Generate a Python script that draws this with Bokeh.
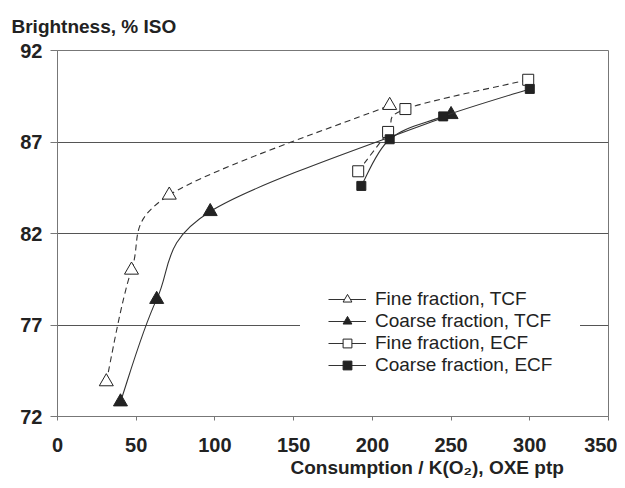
from bokeh.plotting import figure
from bokeh.models import (Range1d, FixedTicker, Legend, LegendItem,
                          ColumnDataSource, Title)
from bokeh.embed import file_html
from bokeh.resources import INLINE

# ---------------- data ----------------
fine_tcf_x = [31, 47, 71, 211]
fine_tcf_y = [73.9, 80.0, 84.1, 89.0]

coarse_tcf_x = [40, 63, 97, 250]
coarse_tcf_y = [72.8, 78.4, 83.2, 88.5]

fine_ecf_x = [191, 210, 221, 299]
fine_ecf_y = [85.4, 87.55, 88.8, 90.4]

coarse_ecf_x = [193, 211, 245, 300]
coarse_ecf_y = [84.6, 87.15, 88.4, 89.9]

series_names = ["Fine fraction, TCF", "Coarse fraction, TCF",
                "Fine fraction, ECF", "Coarse fraction, ECF"]
x_ticks = [0, 50, 100, 150, 200, 250, 300, 350]
y_ticks = [72, 77, 82, 87, 92]

FONT = "Liberation Sans"
INK = "#222222"


def smooth_segments(xs, ys):
    """Cubic Bezier (Catmull-Rom) segments through the data points."""
    n = len(xs)
    seg = dict(x0=[], y0=[], x1=[], y1=[], cx0=[], cy0=[], cx1=[], cy1=[])
    for i in range(n - 1):
        a = i - 1 if i > 0 else i
        b = i + 2 if i + 2 < n else i + 1
        seg["x0"].append(xs[i]); seg["y0"].append(ys[i])
        seg["x1"].append(xs[i + 1]); seg["y1"].append(ys[i + 1])
        seg["cx0"].append(xs[i] + (xs[i + 1] - xs[a]) / 6.0)
        seg["cy0"].append(ys[i] + (ys[i + 1] - ys[a]) / 6.0)
        seg["cx1"].append(xs[i + 1] - (xs[b] - xs[i]) / 6.0)
        seg["cy1"].append(ys[i + 1] - (ys[b] - ys[i]) / 6.0)
    return ColumnDataSource(seg)


p = figure(width=617, height=480, output_backend="svg", toolbar_location=None,
           x_range=Range1d(0, 350), y_range=Range1d(72, 92),
           min_border_left=57, min_border_right=9,
           min_border_top=50, min_border_bottom=64)

p.background_fill_color = "white"
p.border_fill_color = "white"
p.outline_line_color = "#777777"
p.outline_line_width = 1

# title (y axis caption)
p.title.text = "Brightness, % ISO"
p.title.align = "left"
p.title.offset = -46
p.title.standoff = 27
p.title.text_font = FONT
p.title.text_font_size = "19px"
p.title.text_font_style = "bold"
p.title.text_color = INK

# x caption
xcap = Title(text="Consumption / K(O\u2082), OXE ptp", align="left", offset=233,
             standoff=0, text_font=FONT, text_font_size="19px",
             text_font_style="bold", text_color=INK)
p.add_layout(xcap, "below")

# axes
for ax in (p.xaxis[0], p.yaxis[0]):
    ax.axis_line_color = "#777777"
    ax.major_tick_line_color = "#777777"
    ax.minor_tick_line_color = None
    ax.major_tick_in = 0
    ax.major_label_text_font = FONT
    ax.major_label_text_font_size = "20px"
    ax.major_label_text_font_style = "bold"
    ax.major_label_text_color = INK

p.xaxis.ticker = FixedTicker(ticks=x_ticks)
p.yaxis.ticker = FixedTicker(ticks=y_ticks)
p.xaxis.major_tick_out = 4
p.xaxis.major_label_standoff = 17
p.yaxis.major_tick_out = 7
p.yaxis.major_label_standoff = 8

p.xgrid.visible = False
p.ygrid.ticker = FixedTicker(ticks=[77, 82, 87])
p.ygrid.grid_line_color = "#555555"
p.ygrid.grid_line_width = 1

# ---------------- series ----------------
specs = [
    (fine_tcf_x, fine_tcf_y, "triangle", 14, "white", "6 4"),
    (coarse_tcf_x, coarse_tcf_y, "triangle", 14, INK, "solid"),
    (fine_ecf_x, fine_ecf_y, "square", 11, "white", "6 4"),
    (coarse_ecf_x, coarse_ecf_y, "square", 9, INK, "solid"),
]

items = []
for (xs, ys, marker, size, fill, dash), name in zip(specs, series_names):
    p.bezier(x0="x0", y0="y0", x1="x1", y1="y1", cx0="cx0", cy0="cy0",
             cx1="cx1", cy1="cy1", source=smooth_segments(xs, ys),
             line_color="#333333", line_width=1.1, line_dash=dash)
    # hidden line renderer, used only to draw the legend's line sample
    leg_line = p.line(x=xs, y=ys, line_color="#333333", line_width=1.1,
                      visible=False)
    sc = p.scatter(x=xs, y=ys, marker=marker, size=size, fill_color=fill,
                   line_color=INK, line_width=1)
    items.append(LegendItem(label=name, renderers=[leg_line, sc]))

legend = Legend(items=items, location=(243, 12))
legend.background_fill_color = "white"
legend.background_fill_alpha = 1
legend.border_line_alpha = 0
legend.inactive_fill_alpha = 0
legend.padding = 28
legend.margin = 0
legend.spacing = 0
legend.glyph_width = 38
legend.glyph_height = 22
legend.label_height = 22
legend.label_standoff = 9
legend.label_text_font = FONT
legend.label_text_font_size = "19px"
legend.label_text_color = INK
p.add_layout(legend)

open("out.html", "w").write(file_html(p, INLINE))
